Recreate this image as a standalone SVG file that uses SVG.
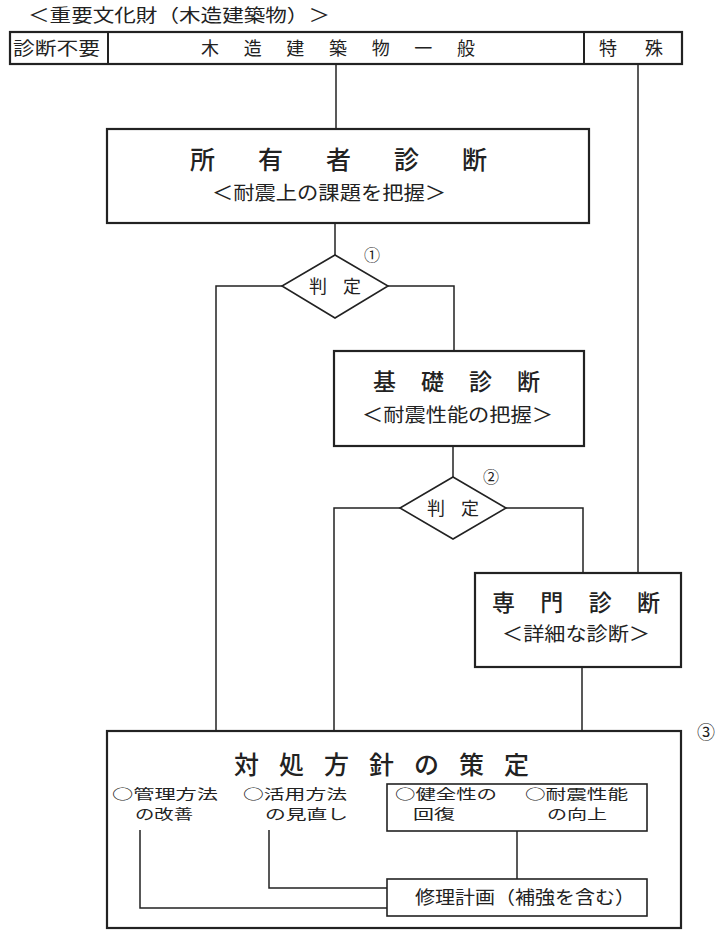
<svg xmlns="http://www.w3.org/2000/svg" width="716" height="932" viewBox="0 0 716 932">
<style>
text{font-family:"Noto Sans CJK JP","Noto Sans CJK SC",sans-serif;fill:#222;}
.box{fill:#fff;stroke:#222;stroke-width:2.2;}
.thin{fill:#fff;stroke:#222;stroke-width:1.6;}
.ln{fill:none;stroke:#222;stroke-width:1.5;}
.big{font-size:25px;font-weight:500;}
.mid{font-size:23px;font-weight:500;}
.sub{font-size:19px;}
.hd{font-size:18px;}
.it{font-size:14px;}
.num{font-size:16px;}
</style>
<rect width="716" height="932" fill="#fff"/>
<g id="title">
<text class="hd" x="28" y="22" textLength="302" lengthAdjust="spacingAndGlyphs">＜重要文化財（木造建築物）＞</text>
</g>
<g id="header">
<rect class="box" x="10" y="32" width="672" height="32"/>
<line class="ln" x1="108" y1="32" x2="108" y2="64" style="stroke-width:2"/>
<line class="ln" x1="584" y1="32" x2="584" y2="64" style="stroke-width:2"/>
<text class="hd" x="13" y="55" textLength="87" lengthAdjust="spacingAndGlyphs">診断不要</text>
<text class="hd" x="201" y="55" textLength="274" lengthAdjust="spacing">木造建築物一般</text>
<text class="hd" x="599" y="55" textLength="64" lengthAdjust="spacing">特殊</text>
</g>
<g id="owner">
<rect class="box" x="107" y="129" width="482" height="94"/>
<text class="big" x="190" y="169" textLength="297" lengthAdjust="spacing">所有者診断</text>
<text class="sub" x="212" y="200" textLength="234" lengthAdjust="spacingAndGlyphs">＜耐震上の課題を把握＞</text>
</g>
<g id="judge1">
<polygon class="thin" points="335,255 388,286 335,318 282,286"/>
<text class="hd" x="309" y="293" textLength="52" lengthAdjust="spacing">判定</text>
<text class="num" x="372" y="261" text-anchor="middle">①</text>
</g>
<g id="basic">
<rect class="box" x="334" y="351" width="250" height="95"/>
<text class="mid" x="373" y="390" textLength="167" lengthAdjust="spacing">基礎診断</text>
<text class="sub" x="362" y="422" textLength="191" lengthAdjust="spacingAndGlyphs">＜耐震性能の把握＞</text>
</g>
<g id="judge2">
<polygon class="thin" points="453,477 506,508 453,539 400,508"/>
<text class="hd" x="427" y="515" textLength="52" lengthAdjust="spacing">判定</text>
<text class="num" x="491" y="483" text-anchor="middle">②</text>
</g>
<g id="expert">
<rect class="box" x="475" y="573" width="206" height="94"/>
<text class="mid" x="492" y="611" textLength="168" lengthAdjust="spacing">専門診断</text>
<text class="sub" x="502" y="641" textLength="148" lengthAdjust="spacingAndGlyphs">＜詳細な診断＞</text>
</g>
<g id="policy">
<rect class="box" x="107" y="731" width="574" height="197"/>
<text class="big" x="234" y="774" textLength="295" lengthAdjust="spacing">対処方針の策定</text>
<text class="it" x="112" y="799" textLength="106" lengthAdjust="spacingAndGlyphs">○管理方法</text>
<text class="it" x="135" y="819" textLength="58" lengthAdjust="spacingAndGlyphs">の改善</text>
<text class="it" x="243" y="799" textLength="104" lengthAdjust="spacingAndGlyphs">○活用方法</text>
<text class="it" x="265" y="819" textLength="83" lengthAdjust="spacingAndGlyphs">の見直し</text>
<text class="num" x="706" y="739" text-anchor="middle" style="font-size:18px">③</text>
</g>
<g id="inner">
<rect class="thin" x="387" y="784" width="260" height="47"/>
<text class="it" x="395" y="799" textLength="102" lengthAdjust="spacingAndGlyphs">○健全性の</text>
<text class="it" x="413" y="819" textLength="42" lengthAdjust="spacingAndGlyphs">回復</text>
<text class="it" x="525" y="799" textLength="103" lengthAdjust="spacingAndGlyphs">○耐震性能</text>
<text class="it" x="547" y="819" textLength="60" lengthAdjust="spacingAndGlyphs">の向上</text>
</g>
<g id="repair">
<rect class="thin" x="387" y="879" width="260" height="37"/>
<text class="hd" x="415" y="904" textLength="220" lengthAdjust="spacingAndGlyphs">修理計画（補強を含む）</text>
</g>
<g id="connectors">
<line class="ln" x1="336" y1="64" x2="336" y2="129"/>
<line class="ln" x1="638" y1="64" x2="638" y2="573"/>
<line class="ln" x1="335" y1="223" x2="335" y2="255"/>
<polyline class="ln" points="282,286 216,286 216,731"/>
<polyline class="ln" points="388,286 454,286 454,351"/>
<line class="ln" x1="453" y1="446" x2="453" y2="477"/>
<polyline class="ln" points="400,508 334,508 334,731"/>
<polyline class="ln" points="506,508 583,508 583,573"/>
<line class="ln" x1="582" y1="667" x2="582" y2="731"/>
<polyline class="ln" points="140,830 140,908 387,908"/>
<polyline class="ln" points="269,830 269,888 387,888"/>
<line class="ln" x1="517" y1="831" x2="517" y2="879"/>
</g>
</svg>
